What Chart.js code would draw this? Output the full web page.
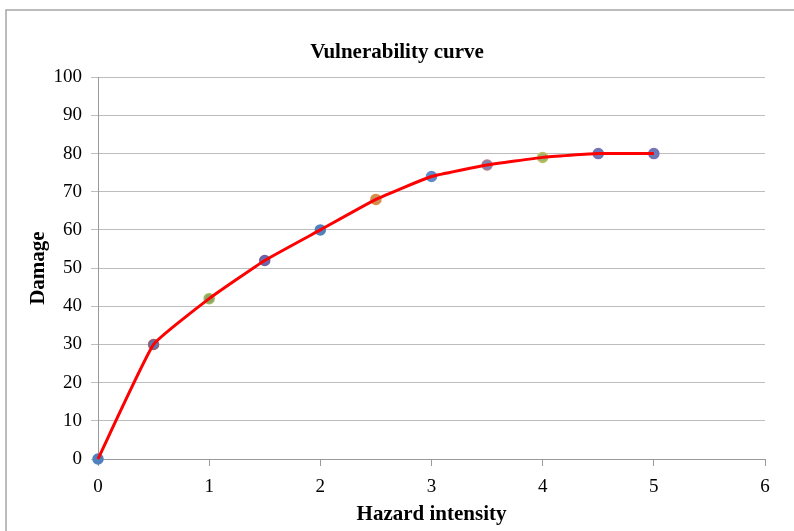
<!DOCTYPE html>
<html>
<head>
<meta charset="utf-8">
<title>Vulnerability curve</title>
<script src="https://cdn.jsdelivr.net/npm/chart.js@4.4.1/dist/chart.umd.min.js"></script>
<style>
    body { margin: 0; background: #fff; }
    #wrap { width: 794px; height: 531px; }
</style>
</head>
<body>
<div id="wrap"><canvas id="vulnChart" width="794" height="531"></canvas></div>
<script>
// Chart data
const hazardIntensity = [0, 0.5, 1, 1.5, 2, 2.5, 3, 3.5, 4, 4.5, 5];
const damage = [0, 30, 42, 52, 60, 68, 74, 77, 79, 80, 80];
const xTicks = [0, 1, 2, 3, 4, 5, 6];
const yTicks = [0, 10, 20, 30, 40, 50, 60, 70, 80, 90, 100];

// Marker colours (Excel "vary colours by point" look)
const markerFill = ['#4F81BD', '#5A78B8', '#8FA46A', '#6A6AAE', '#4F81BD', '#C9925A',
                    '#5F8CC8', '#7A86B8', '#9FB46A', '#6A7BB8', '#6A7BB8'];
const markerEdge = ['#4F81BD', '#A05A6A', '#9BBB59', '#7060A0', '#4F81BD', '#E08A40',
                    '#5F8CC8', '#B07A8A', '#C0C060', '#7A70B0', '#7A70B0'];

const serif = 'Liberation Serif, Times New Roman, serif';
const points = hazardIntensity.map((x, i) => ({ x: x, y: damage[i] }));

// outer frame like the pasted Excel chart
const framePlugin = {
    id: 'frame',
    beforeDraw(chart) {
        const ctx = chart.ctx;
        ctx.save();
        ctx.strokeStyle = '#A6A6A6';
        ctx.lineWidth = 1.5;
        ctx.beginPath();
        ctx.moveTo(6, 531);
        ctx.lineTo(6, 10);
        ctx.lineTo(794, 10);
        ctx.stroke();
        ctx.restore();
    }
};

new Chart(document.getElementById('vulnChart').getContext('2d'), {
    type: 'scatter',
    data: {
        datasets: [{
            label: 'curve',
            data: points,
            showLine: true,
            borderColor: '#FF0000',
            borderWidth: 3,
            tension: 0.12,
            pointRadius: 0,
            clip: false,
            order: 1
        }, {
            label: 'markers',
            data: points,
            showLine: false,
            pointRadius: 5,
            pointBackgroundColor: markerFill,
            pointBorderColor: markerEdge,
            pointBorderWidth: 1.5,
            clip: false,
            order: 2
        }]
    },
    options: {
        responsive: false,
        devicePixelRatio: 1,
        animation: false,
        layout: { padding: 0 },
        plugins: {
            legend: { display: false },
            tooltip: { enabled: false },
            title: {
                display: true,
                text: 'Vulnerability curve',
                color: '#000',
                font: { family: serif, size: 21, weight: 'bold' },
                padding: { top: 40, bottom: 12 }
            }
        },
        scales: {
            x: {
                type: 'linear',
                min: 0,
                max: 6,
                afterFit: (s) => { s.height = 72; },
                afterBuildTicks: (s) => { s.ticks = xTicks.map(v => ({ value: v })); },
                border: { color: '#9A9A9A', width: 1 },
                grid: { drawOnChartArea: false, drawTicks: true, tickLength: 7, color: '#9A9A9A' },
                ticks: {
                    color: '#000',
                    padding: 10,
                    maxRotation: 0,
                    font: { family: serif, size: 19 }
                },
                title: {
                    display: true,
                    text: 'Hazard intensity',
                    color: '#000',
                    font: { family: serif, size: 21, weight: 'bold' },
                    padding: { top: 0, bottom: 4 }
                }
            },
            y: {
                min: 0,
                max: 100,
                afterFit: (s) => { s.width = 98; },
                afterBuildTicks: (s) => { s.ticks = yTicks.map(v => ({ value: v })); },
                border: { color: '#9A9A9A', width: 1 },
                grid: { color: '#BDBDBD', lineWidth: 1, tickLength: 7, drawTicks: true },
                ticks: {
                    color: '#000',
                    padding: 9,
                    font: { family: serif, size: 19 }
                },
                title: {
                    display: true,
                    text: 'Damage',
                    color: '#000',
                    font: { family: serif, size: 21, weight: 'bold' },
                    padding: { top: 26, bottom: 0 }
                }
            },
            // empty right margin so the title centres like the original
            spacer: {
                position: 'right',
                min: 0,
                max: 100,
                afterFit: (s) => { s.width = 29; },
                grid: { display: false },
                border: { display: false },
                ticks: { display: false }
            }
        }
    },
    plugins: [framePlugin]
});
</script>
</body>
</html>
